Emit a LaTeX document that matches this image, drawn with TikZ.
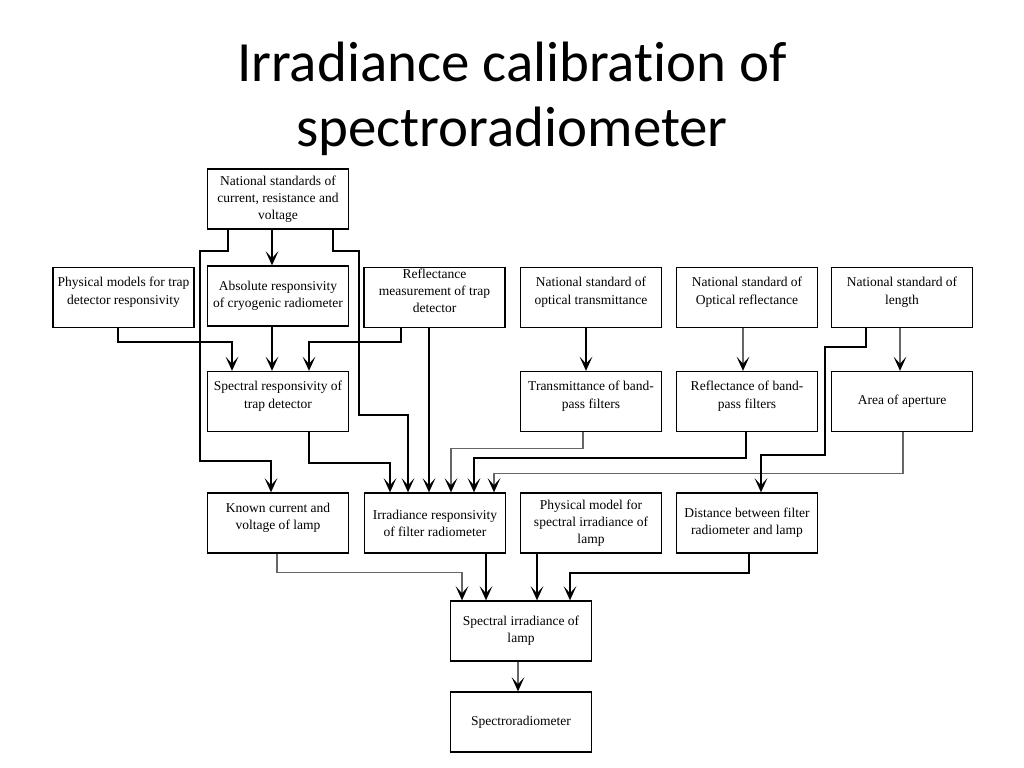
\documentclass[tikz,border=0pt]{standalone}
\usepackage{fontspec}
\setmainfont{Liberation Serif}
\newfontfamily\titlefont[RawFeature={-liga;-calt;-clig;-dlig}]{Carlito}
\usetikzlibrary{arrows.meta,calc}
\newcommand{\pushup}{\\[-2.5pt]\mbox{}}

\tikzset{
  box/.style={draw, line width=1.1pt, minimum width=99pt, minimum height=42pt,
    inner sep=1pt, align=center, font=\fontsize{9.5}{12}\selectfont},
  titletext/.style={align=center, font=\titlefont\fontsize{40}{45.7}\selectfont},
  wire/.style={line width=1.2pt, ->},
  pale/.style={line width=0.9pt, draw=black!60,
    -{Stealth[length=10pt,width=9pt,inset=5pt,color=black]}}
}

\begin{document}
\begin{tikzpicture}[x=0.703125pt, y=-0.703125pt,
    >={Stealth[length=10pt,width=9pt,inset=5pt]}]
        \useasboundingbox (0,0) rectangle (1024,768);

        % Title
        \node[titletext] (title) at (512,99) {Irradiance calibrat\kern0pt ion of\\spectroradiometer};

        % Standards and inputs
        \node[box] (ns) at (278,199) {National standards of\\current, resistance and\\voltage};
        \node[box] (pm) at (123.5,297.5) {Physical models for trap\\detector responsivity\pushup};
        \node[box] (ar) at (278,296) {Absolute responsivity\\of cryogenic radiometer};
        \node[box] (rm) at (434.5,297.5) {Reflectance\\measurement of trap\\detector\pushup};
        \node[box] (ot) at (591,297.5) {National standard of\\optical transmittance\pushup};
        \node[box] (or) at (747,297.5) {National standard of\\Optical reflectance\pushup};
        \node[box] (len) at (902,297.5) {National standard of\\length\pushup};

        % Second row
        \node[box] (sr) at (278,401.5) {Spectral responsivity of\\trap detector\pushup};
        \node[box] (tb) at (591,401.5) {Transmittance of band-\\pass filters\pushup};
        \node[box] (rb) at (747,401.5) {Reflectance of band-\\pass filters\pushup};
        \node[box] (aa) at (902,401.5) {Area of aperture};

        % Third row
        \node[box] (kc) at (278,523) {Known current and\\voltage of lamp\pushup};
        \node[box] (ir) at (435,523) {Irradiance responsivity\\of filter radiometer};
        \node[box] (pl) at (591,523) {Physical model for\\spectral irradiance of\\lamp};
        \node[box] (dl) at (747,523) {Distance between filter\\radiometer and lamp};

        % Results
        \node[box] (sil) at (521,631) {Spectral irradiance of\\lamp};
        \node[box] (spec) at (521,722) {Spectroradiometer};

        % Connectors from the top box
        \draw[wire] ($(ns.south)+(-6,0)$) -- ($(ar.north)+(-6,0)$);
        \draw[wire] ($(ns.south)+(-50,0)$) |- ++(-28,21) |- ($(kc.north)+(-7,-31)$) -- ($(kc.north)+(-7,0)$);
        \draw[wire] ($(ns.south)+(55,0)$) |- ++(26,21) |- ($(ir.north)+(-27,-77)$) -- ($(ir.north)+(-27,0)$);

        % Into spectral responsivity
        \draw[wire] ($(pm.south)+(-5.5,0)$) |- ++(114,14) -- ($(sr.north)+(-46,0)$);
        \draw[wire] ($(ar.south)+(-6,0)$) -- ($(sr.north)+(-6,0)$);
        \draw[wire] ($(rm.south)+(-33.5,0)$) |- ++(-92,14) -- ($(sr.north)+(31,0)$);

        % Standards to second row
        \draw[wire] ($(ot.south)+(-5,0)$) -- ($(tb.north)+(-5,0)$);
        \draw[pale] ($(or.south)+(-4,0)$) -- ($(rb.north)+(-4,0)$);
        \draw[pale] ($(len.south)+(-2,0)$) -- ($(aa.north)+(-2,0)$);

        % Into irradiance responsivity
        \draw[wire] ($(sr.south)+(31,0)$) |- ++(81,31) -- ($(ir.north)+(-45,0)$);
        \draw[wire] ($(rm.south)+(-5.5,0)$) -- ($(ir.north)+(-6,0)$);
        \draw[pale] ($(tb.south)+(-8,0)$) |- ++(-132,16) -- ($(ir.north)+(16,0)$);
        \draw[wire] ($(rb.south)+(-1,0)$) |- ++(-272,26) -- ($(ir.north)+(39,0)$);
        \draw[pale] ($(aa.south)+(1,0)$) |- ++(-409,41) -- ($(ir.north)+(59,0)$);

        % Length to distance
        \draw[wire] ($(len.south)+(-36,0)$) |- ++(-41,19) |- ($(dl.north)+(14,-37)$) -- ($(dl.north)+(14,0)$);

        % Into spectral irradiance
        \draw[pale] ($(kc.south)+(-1,0)$) |- ++(185,19) -- ($(sil.north)+(-59,0)$);
        \draw[wire] ($(ir.south)+(51,0)$) -- ($(sil.north)+(-35,0)$);
        \draw[wire] ($(pl.south)+(-54,0)$) -- ($(sil.north)+(16,0)$);
        \draw[wire] ($(dl.south)+(2,0)$) |- ++(-179,19) -- ($(sil.north)+(49,0)$);
        \draw[pale] ($(sil.south)+(-3,0)$) -- ($(spec.north)+(-3,0)$);
    \end{tikzpicture}
\end{document}
